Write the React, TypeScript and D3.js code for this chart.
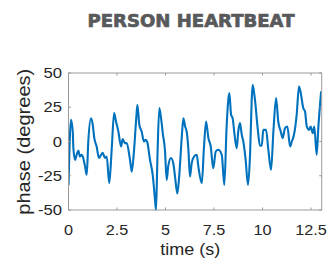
import React from "react";
import * as d3 from "d3";

const times = [0,0.13,0.22,0.25,0.34,0.42,0.51,0.59,0.68,0.76,0.85,0.94,1.02,1.16,1.25,1.33,1.45,1.57,1.68,1.76,1.88,1.97,2.10,2.23,2.35,2.45,2.57,2.71,2.79,2.91,3.0,3.17,3.26,3.38,3.48,3.55,3.65,3.77,3.89,3.98,4.06,4.20,4.34,4.46,4.51,4.58,4.68,4.77,4.86,4.97,5.06,5.14,5.28,5.40,5.49,5.61,5.71,5.84,5.92,6.01,6.09,6.18,6.26,6.35,6.47,6.61,6.69,6.87,6.98,7.09,7.21,7.33,7.46,7.59,7.72,7.90,8.03,8.15,8.29,8.38,8.46,8.55,8.67,8.75,8.84,8.93,9.01,9.13,9.25,9.36,9.44,9.49,9.61,9.75,9.87,9.96,10.04,10.18,10.30,10.44,10.56,10.70,10.81,10.94,11.04,11.16,11.28,11.42,11.51,11.62,11.76,11.88,11.97,12.10,12.19,12.28,12.40,12.48,12.59,12.67,12.79,12.88,13.02];
const phase = [-32,15.9,7.3,-4.6,-13.4,-9.7,-6.6,-11,-9.7,-12,-18,-24.3,0,17,12.2,2.5,-3.6,-12,-9.7,-8.3,-12,-11,-30.4,-4.8,20.7,14.6,7.3,-3.6,1.7,-1.2,-1.2,-13.4,-22,-6,14.6,26.8,12.2,7.3,0,1.2,-0.5,-13.4,-24.3,-42.6,-50,-13.4,24.4,17,6,-6,-28,-18,-12,-15.8,-25.6,-38,-24.3,3.7,17,11,7.3,-6,-25.6,-15.8,-11,-9.7,-18,-30.4,-4.8,14.6,2.5,-3.6,-19.5,-7.3,-6,-9.7,-31.7,11,35.4,19.5,17,6,-4.8,7.3,13.4,4.9,0,-13.4,-31.7,-8.5,29.2,41.4,30.5,9.8,-3.1,-3.1,8.5,8.5,-6,-20.7,7.3,31.7,14.6,7.3,2.5,9.8,11,-3.6,0,4.9,19.5,40.2,35.4,24.4,22,11,8.5,11,6,11,-9.7,11,36.6];
const xTicks = [0, 2.5, 5, 7.5, 10, 12.5];
const xTickLabels = ["0", "2.5", "5", "7.5", "10", "12.5"];
const yTicks = [-50, -25, 0, 25, 50];
const yTickLabels = ["-50", "-25", "0", "25", "50"];

export default function App() {
  const W = 331, H = 265;
  const left = 68.5, right = 321.7, top = 73, bottom = 210;
  const x = d3.scaleLinear().domain([0, 13.05]).range([left, right]);
  const y = d3.scaleLinear().domain([-50, 50]).range([bottom, top]);
  const pts: [number, number][] = times.map((t, i) => [t, phase[i]]);
  const line = d3.line<[number, number]>().x(d => x(d[0])).y(d => y(d[1])).curve(d3.curveMonotoneX);
  const axisColor = "#9a9a9a";
  const textColor = "#262626";
  const font = "'Liberation Sans', Arial, sans-serif";
  return (
    <svg width={W} height={H} style={{ position: "absolute", left: 0, top: 0 }}>
      <rect width={W} height={H} fill="#fff" />
      <text x={191} y={26.7} textAnchor="middle" fontFamily="'DejaVu Sans', sans-serif" fontWeight="bold" fontSize={18.4} fill="#58595b" stroke="#58595b" strokeWidth={0.7} textLength={207} lengthAdjust="spacingAndGlyphs">PERSON HEARTBEAT</text>
      <defs>
        <clipPath id="plotclip">
          <rect x={left} y={top - 1} width={right - left} height={bottom - top + 2} />
        </clipPath>
      </defs>
      <path d={line(pts) || ""} fill="none" stroke="#0072BD" strokeWidth={2.1} strokeLinejoin="round" clipPath="url(#plotclip)" />
      <rect x={left} y={top} width={right - left} height={bottom - top} fill="none" stroke={axisColor} strokeWidth={1} />
      {xTicks.map((t, i) => (
        <g key={"x" + i}>
          <line x1={x(t)} x2={x(t)} y1={bottom} y2={bottom - 2.5} stroke={axisColor} />
          <line x1={x(t)} x2={x(t)} y1={top} y2={top + 2.5} stroke={axisColor} />
          <text transform={`translate(${x(t)},235) scale(1.12,1)`} textAnchor="middle" fontFamily={font} fontSize={14.5} fill={textColor}>{xTickLabels[i]}</text>
        </g>
      ))}
      {yTicks.map((v, i) => (
        <g key={"y" + i}>
          <line x1={left} x2={left + 2.5} y1={y(v)} y2={y(v)} stroke={axisColor} />
          <line x1={right} x2={right - 2.5} y1={y(v)} y2={y(v)} stroke={axisColor} />
          <text transform={`translate(62,${y(v) + 5.2}) scale(1.15,1)`} textAnchor="end" fontFamily={font} fontSize={14.5} fill={textColor}>{yTickLabels[i]}</text>
        </g>
      ))}
      <text x={190.3} y={255} textAnchor="middle" fontFamily={font} fontSize={17} fill={textColor} textLength={60} lengthAdjust="spacingAndGlyphs">time (s)</text>
      <text transform={`translate(30,${141.7}) rotate(-90)`} textAnchor="middle" fontFamily={font} fontSize={19} fill={textColor} textLength={146} lengthAdjust="spacingAndGlyphs">phase (degrees)</text>
    </svg>
  );
}
